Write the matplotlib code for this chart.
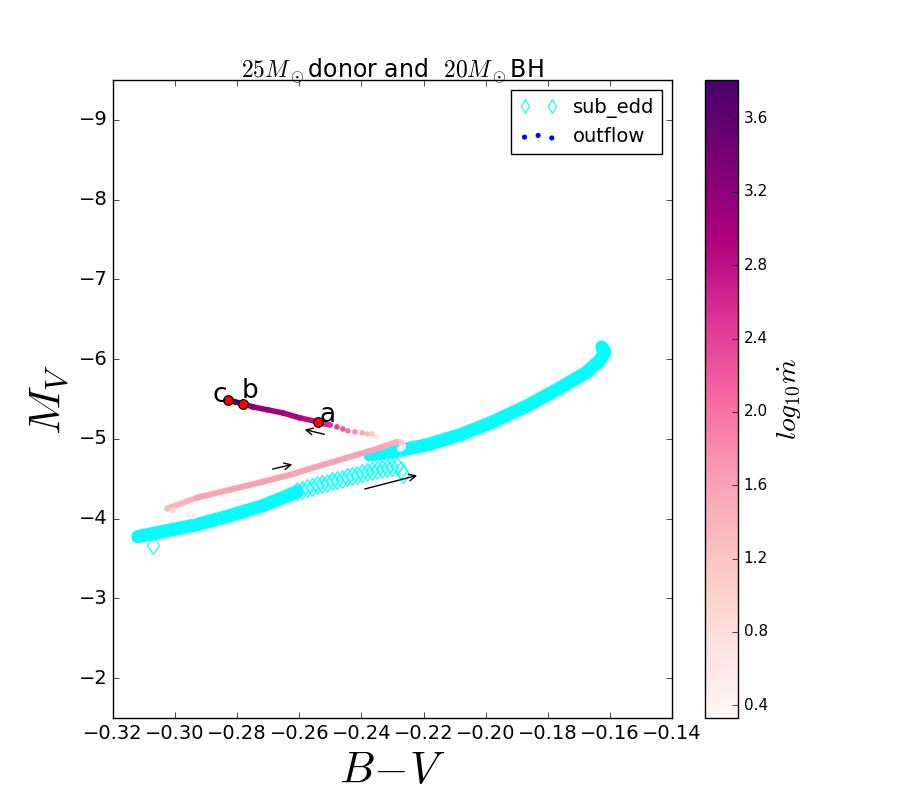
import numpy as np
import matplotlib
matplotlib.use("Agg")
import matplotlib.pyplot as plt
from matplotlib.collections import LineCollection
from matplotlib.colors import Normalize
from matplotlib.ticker import MultipleLocator

plt.style.use('classic')

# sub-Eddington track, lower branch (dense part, drawn as a solid band)
bv_sub_lo = [-0.3120, -0.3039, -0.2930, -0.2823, -0.2717, -0.2630, -0.2608]
mv_sub_lo = [-3.775, -3.838, -3.925, -4.038, -4.163, -4.300, -4.338]

# sub-Eddington track, lower branch (sparse part, single diamonds)
bv_sub_mid = [-0.2608, -0.2592, -0.2575, -0.2559, -0.2543, -0.2527, -0.2511,
              -0.2495, -0.2479, -0.2463, -0.2447, -0.2431, -0.2414, -0.2398,
              -0.2382, -0.2366, -0.2350, -0.2334, -0.2318, -0.2302, -0.2286,
              -0.2273, -0.2267]
mv_sub_mid = [-4.350, -4.363, -4.381, -4.400, -4.419, -4.438, -4.450,
              -4.469, -4.488, -4.500, -4.519, -4.538, -4.550, -4.569,
              -4.588, -4.600, -4.613, -4.625, -4.638, -4.650, -4.663,
              -4.613, -4.563]

# sub-Eddington track, upper branch (dense)
bv_sub_up = [-0.2373, -0.2299, -0.2189, -0.2083, -0.1977, -0.1867, -0.1761,
             -0.1674, -0.1632, -0.1616, -0.1626]
mv_sub_up = [-4.800, -4.838, -4.925, -5.050, -5.213, -5.413, -5.638,
             -5.838, -5.988, -6.088, -6.150]

# stray sub-Eddington point
bv_sub_odd = [-0.3071]
mv_sub_odd = [-3.675]

# outflow phase, rising branch
bv_pink = [-0.3026, -0.2930, -0.2823, -0.2717, -0.2630, -0.2556, -0.2447,
           -0.2340, -0.2286, -0.2270, -0.2266, -0.2276]
mv_pink = [-4.125, -4.263, -4.363, -4.463, -4.550, -4.638, -4.763,
           -4.888, -4.963, -4.950, -4.900, -4.875]
mdot_pink = [1.30, 1.55, 1.62, 1.62, 1.62, 1.62, 1.62, 1.62, 1.45, 1.00, 0.70, 0.50]

# outflow phase, pale stray points
bv_pale = [-0.3007, -0.2959, -0.2942]
mv_pale = [-4.100, -4.050, -4.025]
mdot_pale = [0.90, 0.60, 0.45]

# outflow phase, returning branch (sparse dots)
bv_mag_dots = [-0.2353, -0.2366, -0.2382, -0.2398, -0.2421, -0.2444, -0.2460, -0.2479]
mv_mag_dots = [-5.025, -5.063, -5.063, -5.075, -5.088, -5.100, -5.125, -5.150]
mdot_mag_dots = [0.70, 1.10, 1.30, 1.50, 1.80, 2.00, 2.20, 2.40]

# outflow phase, returning branch (dense)
bv_mag = [-0.2501, -0.2517, -0.2540, -0.2598, -0.2653, -0.2701, -0.2749,
          -0.2781, -0.2807, -0.2830]
mv_mag = [-5.175, -5.188, -5.213, -5.263, -5.325, -5.363, -5.400,
          -5.440, -5.463, -5.490]
mdot_mag = [2.50, 2.60, 2.75, 2.90, 3.00, 3.10, 3.25, 3.50, 3.70, 3.80]

# marked points
bv_abc = [-0.2540, -0.2781, -0.2830]
mv_abc = [-5.213, -5.440, -5.490]
labels_abc = ['a', 'b', 'c']

MDOT_MIN, MDOT_MAX = 0.33, 3.81


def colored_track(ax, bv, mv, val, norm, lw):
    pts = np.column_stack([bv, mv])
    segs = np.stack([pts[:-1], pts[1:]], axis=1)
    v = np.asarray(val)
    lc = LineCollection(segs, cmap='RdPu', norm=norm, linewidths=lw,
                        capstyle='round', joinstyle='round')
    lc.set_array(0.5 * (v[:-1] + v[1:]))
    ax.add_collection(lc)
    return lc


fig = plt.figure(figsize=(9, 8), dpi=100, facecolor='white')
ax = fig.add_axes([0.1256, 0.1025, 0.6211, 0.7975])
cax = fig.add_axes([0.7833, 0.1025, 0.0367, 0.7975])

cyan = '#00ffff'
band_kw = dict(color=cyan, lw=9.5, solid_capstyle='round', solid_joinstyle='round')
ax.plot(bv_sub_lo, mv_sub_lo, '-', **band_kw)
ax.plot(bv_sub_up, mv_sub_up, '-', **band_kw)
# sparse stretch: faint band under the open diamonds
ax.plot(bv_sub_mid[:-2], mv_sub_mid[:-2], '-', color=cyan, lw=8, alpha=0.35,
        solid_capstyle='butt')
ax.plot(bv_sub_mid, mv_sub_mid, 'd', mec=cyan, mfc='none', ms=9.5, mew=0.8,
        label='sub_edd')
ax.plot(bv_sub_odd, mv_sub_odd, 'd', mec=cyan, mfc='none', ms=9.5, mew=0.8)

norm = Normalize(vmin=MDOT_MIN, vmax=MDOT_MAX)
colored_track(ax, bv_pink, mv_pink, mdot_pink, norm, 4.3)
colored_track(ax, bv_mag, mv_mag, mdot_mag, norm, 4)
sc = ax.scatter(bv_pink + bv_pale + bv_mag_dots + bv_mag,
                mv_pink + mv_pale + mv_mag_dots + mv_mag,
                c=mdot_pink + mdot_pale + mdot_mag_dots + mdot_mag,
                cmap='RdPu', norm=norm, s=16, edgecolors='none', zorder=3)
# legend proxy for the outflow points
ax.scatter([], [], color='b', s=28, edgecolors='none', label='outflow')

ax.plot(bv_abc, mv_abc, 'o', mfc='red', mec='k', ms=7, mew=0.8, zorder=5)
offsets = {'a': (1, 0), 'b': (-1, 4), 'c': (-11, -1.5)}
for x, y, lab in zip(bv_abc, mv_abc, labels_abc):
    ax.annotate(lab, (x, y), xytext=offsets[lab], textcoords='offset points',
                fontsize=19, ha='left', va='baseline', zorder=6)

# direction arrows
arrows = [((-0.2398, -4.363), (-0.2212, -4.550)),
          ((-0.2695, -4.613), (-0.2614, -4.688)),
          ((-0.2511, -5.050), (-0.2592, -5.125))]
for tail, head in arrows:
    ax.annotate('', xy=head, xytext=tail,
                arrowprops=dict(arrowstyle='->', color='k', lw=1.0))

ax.set_xlim(-0.32, -0.14)
ax.set_ylim(-1.5, -9.5)
ax.xaxis.set_major_locator(MultipleLocator(0.02))
ax.yaxis.set_major_locator(MultipleLocator(1))
ax.tick_params(labelsize=14)
ax.set_xlabel('$B\\!-\\!V$', fontsize=32)
ax.set_ylabel('$M_V$', fontsize=33)
ax.set_title('$25M_\\odot$donor and  $20M_\\odot$BH', fontsize=17, pad=1)
ax.legend(loc='upper right', fontsize=14, numpoints=2, scatterpoints=3,
          markerscale=0.7)

cb = fig.colorbar(sc, cax=cax)
cb.set_ticks([0.4, 0.8, 1.2, 1.6, 2.0, 2.4, 2.8, 3.2, 3.6])
cb.ax.tick_params(labelsize=11)
cb.set_label('$log_{10}\\dot{m}$', fontsize=20)

fig.savefig('out.png', dpi=100, facecolor='white')
